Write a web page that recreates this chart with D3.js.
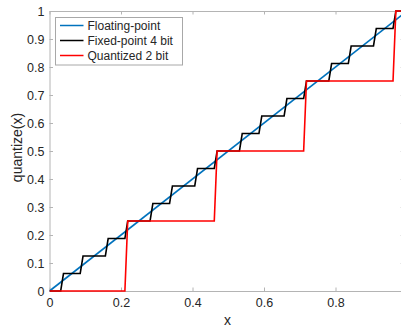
<!DOCTYPE html>
<html>
<head>
<meta charset="utf-8">
<script src="https://cdn.jsdelivr.net/npm/d3@7"></script>
<style>
  html, body { margin: 0; padding: 0; background: #fff; }
  svg { display: block; font-family: "Liberation Sans", Arial, Helvetica, sans-serif; }
</style>
</head>
<body>
<svg id="chart" width="401" height="326"></svg>
<script>
// Input range and tick labels
const xMax = 0.9922;
const xTicks = [0, 0.2, 0.4, 0.6, 0.8];
const xTickLabels = ["0", "0.2", "0.4", "0.6", "0.8"];
const yTicks = [0, 0.1, 0.2, 0.3, 0.4, 0.5, 0.6, 0.7, 0.8, 0.9, 1];
const yTickLabels = ["0", "0.1", "0.2", "0.3", "0.4", "0.5", "0.6", "0.7", "0.8", "0.9", "1"];

// Floating-point: identity
const floatX = [0, 0.9922];
const floatY = [0, 0.9922];

// Fixed-point, 4 fractional bits (step 1/16), sampled at 1/128
const fixedX = [0, 0.0313, 0.0391, 0.0859, 0.0938, 0.1563, 0.1641, 0.2109, 0.2188,
  0.2813, 0.2891, 0.3359, 0.3438, 0.4063, 0.4141, 0.4609, 0.4688,
  0.5313, 0.5391, 0.5859, 0.5938, 0.6563, 0.6641, 0.7109, 0.7188,
  0.7813, 0.7891, 0.8359, 0.8438, 0.9063, 0.9141, 0.9609, 0.9688, 0.9922];
const fixedY = [0, 0, 0.0625, 0.0625, 0.125, 0.125, 0.1875, 0.1875, 0.25,
  0.25, 0.3125, 0.3125, 0.375, 0.375, 0.4375, 0.4375, 0.5,
  0.5, 0.5625, 0.5625, 0.625, 0.625, 0.6875, 0.6875, 0.75,
  0.75, 0.8125, 0.8125, 0.875, 0.875, 0.9375, 0.9375, 1, 1];

// 2-bit quantization (step 1/4)
const quantX = [0, 0.2109, 0.2188, 0.4609, 0.4688, 0.7109, 0.7188, 0.9609, 0.9688, 0.9922];
const quantY = [0, 0, 0.25, 0.25, 0.5, 0.5, 0.75, 0.75, 1, 1];

const seriesNames = ["Floating-point", "Fixed-point 4 bit", "Quantized 2 bit"];
const seriesColors = ["#0072BD", "#000000", "#FF0000"];

const svg = d3.select("#chart");
const plotLeft = 49.5, plotTop = 11, plotBottom = 291, pxPerUnit = 357.5;
const x = d3.scaleLinear().domain([0, xMax]).range([plotLeft, plotLeft + xMax * pxPerUnit]);
const y = d3.scaleLinear().domain([0, 1]).range([plotBottom, plotTop]);

const axisColor = "#b4b4b4";
const textColor = "#262626";

// Plot-area clip
svg.append("clipPath").attr("id", "plotClip")
  .append("rect").attr("x", plotLeft).attr("y", plotTop - 2)
  .attr("width", x(xMax) - plotLeft + 2).attr("height", plotBottom - plotTop + 4);

function styleAxis(g) {
  g.selectAll(".domain").attr("stroke", axisColor).attr("stroke-width", 1);
  g.selectAll(".tick line").attr("stroke", axisColor).attr("stroke-width", 1);
  g.selectAll(".tick text").attr("fill", textColor).attr("font-size", 12.5);
}

// Top and right box edges
svg.append("g").attr("transform", `translate(0,${plotTop})`)
  .call(d3.axisTop(x).tickValues(xTicks).tickSize(-3.5).tickSizeOuter(0).tickFormat(""))
  .call(styleAxis);
svg.append("g").attr("transform", `translate(${x(xMax)},0)`)
  .call(d3.axisRight(y).tickValues(yTicks).tickSize(-3.5).tickSizeOuter(0).tickFormat(""))
  .call(styleAxis);

// Bottom axis
svg.append("g").attr("transform", `translate(0,${plotBottom})`)
  .call(d3.axisBottom(x).tickValues(xTicks).tickSize(-3.5).tickSizeOuter(0).tickPadding(7.5)
    .tickFormat((d, i) => xTickLabels[i]))
  .call(styleAxis);

// Left axis
svg.append("g").attr("transform", `translate(${plotLeft},0)`)
  .call(d3.axisLeft(y).tickValues(yTicks).tickSize(-3.5).tickSizeOuter(0).tickPadding(5)
    .tickFormat((d, i) => yTickLabels[i]))
  .call(styleAxis);

// Series lines
const series = [
  { xs: floatX, ys: floatY },
  { xs: fixedX, ys: fixedY },
  { xs: quantX, ys: quantY }
];
const line = d3.line().x(d => x(d[0])).y(d => y(d[1]));
const plot = svg.append("g").attr("clip-path", "url(#plotClip)");
series.forEach((s, i) => {
  plot.append("path")
    .datum(d3.zip(s.xs, s.ys))
    .attr("d", line)
    .attr("fill", "none")
    .attr("stroke", seriesColors[i])
    .attr("stroke-width", 1.6)
    .attr("stroke-linejoin", "miter");
});

// Axis titles
svg.append("text")
  .attr("x", 227.5).attr("y", 324.5)
  .attr("text-anchor", "middle").attr("fill", textColor).attr("font-size", 14)
  .text("x");
svg.append("text")
  .attr("transform", "translate(21.5,147.5) rotate(-90)")
  .attr("text-anchor", "middle").attr("fill", textColor).attr("font-size", 14)
  .text("quantize(x)");

// Legend
const legend = svg.append("g");
legend.append("rect")
  .attr("x", 55.5).attr("y", 17.5).attr("width", 127).attr("height", 47.5)
  .attr("fill", "#fff").attr("stroke", "#a8a8a8").attr("stroke-width", 1);
const rowY = [25.5, 40.5, 55.5];
seriesNames.forEach((name, i) => {
  legend.append("line")
    .attr("x1", 60).attr("x2", 83.5).attr("y1", rowY[i]).attr("y2", rowY[i])
    .attr("stroke", seriesColors[i]).attr("stroke-width", 1.5);
  legend.append("text")
    .attr("x", 87.5).attr("y", rowY[i]).attr("dy", "0.36em")
    .attr("fill", textColor).attr("font-size", 12)
    .text(name);
});
</script>
</body>
</html>
